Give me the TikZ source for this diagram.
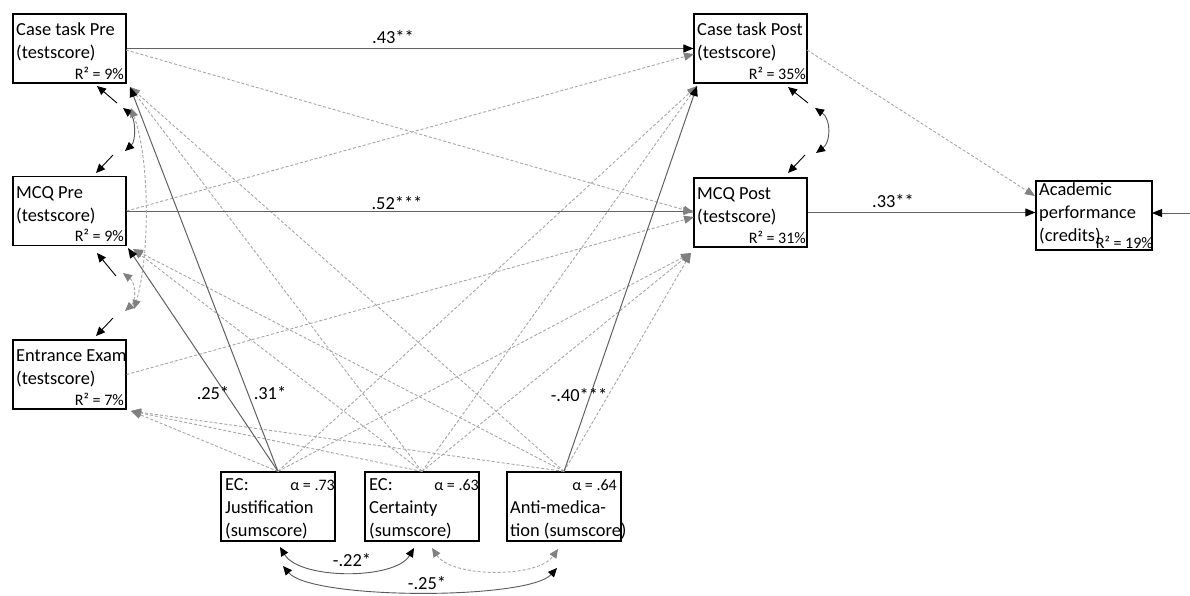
\documentclass[tikz,border=0pt]{standalone}
\usepackage{fontspec}
\setmainfont{Carlito}
\usetikzlibrary{arrows.meta}
\tikzset{
  box/.style={draw=black, line width=1.2pt, inner sep=0pt, minimum width=113pt, minimum height=69pt},
  bt/.style={font=\fontsize{18.4}{23}\selectfont, inner sep=0pt, text=black},
  st/.style={font=\fontsize{16}{19}\selectfont, inner sep=0pt, text=black},
  sig/.style={draw=black!62, line width=1pt, -{Triangle[length=10pt,width=8pt,color=black]}},
  siggray/.style={draw=black!62, line width=1pt, -{Triangle[length=10pt,width=8pt,color=black!50]}},
  ns/.style={draw=black!35, line width=0.9pt, dash pattern=on 3pt off 2pt, -{Triangle[length=10pt,width=8pt,color=black!50]}},
  res/.style={draw=black, line width=0.9pt, -{Triangle[length=9pt,width=8pt,color=black]}},
  cov/.style={draw=black!65, line width=0.9pt, {Triangle[length=9pt,width=8pt,color=black]}-{Triangle[length=9pt,width=8pt,color=black]}},
  ncov/.style={draw=black!35, line width=0.9pt, dash pattern=on 3pt off 2pt, {Triangle[length=9pt,width=8pt,color=black!50]}-{Triangle[length=9pt,width=8pt,color=black!50]}}
}
\begin{document}
\begin{tikzpicture}[x=1pt,y=-1pt]
\useasboundingbox (0,0) rectangle (1190,595);
\fill[white] (0,0) rectangle (1190,595);

% boxes
\node[box] (ctpre) at (69.5,48.5) {};
\node[box] (mcqpre) at (69.5,211) {};
\node[box] (ee) at (69.5,374.5) {};
\node[box] (ctpost) at (750.5,48.5) {};
\node[box] (mcqpost) at (750.5,212.5) {};
\node[box, minimum width=116pt] (acad) at (1094,215.5) {};
\node[box, minimum width=114pt] (jus) at (278,506.5) {};
\node[box, minimum width=114pt] (cer) at (422,506.5) {};
\node[box, minimum width=114pt] (anti) at (564,506.5) {};

% box texts
\node[bt, anchor=base west] (ctpre1) at (16,35) {Case task Pre};
\node[bt, anchor=base west] (ctpre2) at (16,58) {(testscore)};
\node[st, anchor=base east] (ctpre3) at (124,79) {R² = 9\%};
\node[bt, anchor=base west] (mcqpre1) at (16,198) {MCQ Pre};
\node[bt, anchor=base west] (mcqpre2) at (16,221) {(testscore)};
\node[st, anchor=base east] (mcqpre3) at (124,241) {R² = 9\%};
\node[bt, anchor=base west] (ee1) at (16,361) {Entrance Exam};
\node[bt, anchor=base west] (ee2) at (16,384) {(testscore)};
\node[st, anchor=base east] (ee3) at (124,405) {R² = 7\%};
\node[bt, anchor=base west] (ctpost1) at (697,35) {Case task Post};
\node[bt, anchor=base west] (ctpost2) at (697,58) {(testscore)};
\node[st, anchor=base east] (ctpost3) at (806,79) {R² = 35\%};
\node[bt, anchor=base west] (mcqpost1) at (697,199) {MCQ Post};
\node[bt, anchor=base west] (mcqpost2) at (697,222) {(testscore)};
\node[st, anchor=base east] (mcqpost3) at (806,243) {R² = 31\%};
\node[bt, anchor=base west] (acad1) at (1039,195) {Academic};
\node[bt, anchor=base west] (acad2) at (1039,218) {performance};
\node[bt, anchor=base west] (acad3) at (1039,241) {(credits)};
\node[st, anchor=base east] (acad4) at (1153,248) {R² = 19\%};
\node[bt, anchor=base west] (jus1) at (225,490) {EC:};
\node[st, anchor=base east] (jus2) at (335,490) {α = .73};
\node[bt, anchor=base west] (jus3) at (225,513) {Justification};
\node[bt, anchor=base west] (jus4) at (225,536) {(sumscore)};
\node[bt, anchor=base west] (cer1) at (369,490) {EC:};
\node[st, anchor=base east] (cer2) at (479,490) {α = .63};
\node[bt, anchor=base west] (cer3) at (369,513) {Certainty};
\node[bt, anchor=base west] (cer4) at (369,536) {(sumscore)};
\node[st, anchor=base east] (anti1) at (617,490) {α = .64};
\node[bt, anchor=base west] (anti2) at (510,513) {Anti-medica-};
\node[bt, anchor=base west] (anti3) at (510,536) {tion (sumscore)};

% target points
\coordinate (tCTpre) at (130,87);
\coordinate (tMCQpre) at (133,249);
\coordinate (sMCQpre) at (128,248);
\coordinate (tEE) at (131,411);
\coordinate (tCTpost) at (697,86);
\coordinate (tMCQpost) at (691,253);
\coordinate (tMCQpostL) at (694,217);
\coordinate (tCTpostL) at (694,54);
\coordinate (tAcad) at (1035,196);
\coordinate (sCTpost) at (807,50);
\coordinate (sCTpre) at (126,50);
\coordinate (rEdge) at (1190,213);
\coordinate (tAcadR) at (1152,213);

% non-significant paths
\draw[ns] (sCTpre) -- (mcqpost.west);
\draw[ns] (mcqpre.east) -- (tCTpostL);
\draw[ns] (ee.east) -- (tMCQpostL);
\draw[ns] (sCTpost) -- (tAcad);
\draw[ns] (jus.north) -- (tEE);
\draw[ns] (jus.north) -- (tCTpost);
\draw[ns] (jus.north) -- (tMCQpost);
\draw[ns] (cer.north) -- (tCTpre);
\draw[ns] (cer.north) -- (tMCQpre);
\draw[ns] (cer.north) -- (tEE);
\draw[ns] (cer.north) -- (tCTpost);
\draw[ns] (cer.north) -- (tMCQpost);
\draw[ns] (anti.north) -- (tCTpre);
\draw[ns] (anti.north) -- (tMCQpre);
\draw[ns] (anti.north) -- (tEE);
\draw[ns] (anti.north) -- (tMCQpost);

% significant paths
\draw[sig] (ctpre.east) -- (ctpost.west);
\draw[siggray] (mcqpre.east) -- (mcqpre.east -| mcqpost.west);
\draw[sig] (mcqpost.east) -- (mcqpost.east -| acad.west);
\draw[sig] (rEdge) -- (tAcadR);
\draw[sig] (jus.north) -- (tCTpre);
\draw[sig] (jus.north) -- (sMCQpre);
\draw[sig] (anti.north) -- (tCTpost);

% path labels
\node[bt] (l43) at (393,37) {.43**};
\node[bt] (l52) at (397,203) {.52***};
\node[bt] (l33) at (893,201) {.33**};
\node[bt] (l25) at (213,393) {.25*};
\node[bt] (l31) at (270,393) {.31*};
\node[bt] (l40) at (579,395) {-.40***};

% residuals of pre measures
\coordinate (e1) at (117,103);
\coordinate (e1a) at (97,86);
\coordinate (e2) at (113,155);
\coordinate (e2a) at (96,173);
\coordinate (e3) at (116,276);
\coordinate (e3a) at (97,253);
\coordinate (e4) at (113,318);
\coordinate (e4a) at (96,336);
\draw[res] (e1) -- (e1a);
\draw[res] (e2) -- (e2a);
\draw[res] (e3) -- (e3a);
\draw[res] (e4) -- (e4a);
\coordinate (c1a) at (123,108);
\coordinate (c1b) at (125,151);
\draw[cov] (c1a) .. controls (136,118) and (136,141) .. (c1b);
\coordinate (c2a) at (131,108);
\coordinate (c2b) at (134,309);
\draw[ncov] (c2a) .. controls (150,160) and (150,255) .. (c2b);
\coordinate (c3a) at (123,273);
\coordinate (c3b) at (125,311);
\draw[ncov] (c3a) .. controls (136,283) and (136,301) .. (c3b);

% residuals of post measures
\coordinate (e5) at (808,103);
\coordinate (e5a) at (788,87);
\coordinate (e6) at (805,155);
\coordinate (e6a) at (788,173);
\draw[res] (e5) -- (e5a);
\draw[res] (e6) -- (e6a);
\coordinate (c4a) at (815,108);
\coordinate (c4b) at (816,153);
\draw[cov] (c4a) .. controls (831,119) and (831,142) .. (c4b);

% covariances among EC scales
\coordinate (jc1) at (280,547);
\coordinate (jc2) at (414,548);
\draw[cov] (jc1) .. controls (300,580) and (395,580) .. (jc2);
\coordinate (ca1) at (432,548);
\coordinate (ca2) at (558,549);
\draw[ncov] (ca1) .. controls (452,578) and (538,578) .. (ca2);
\coordinate (ja1) at (283,566);
\coordinate (ja2) at (557,568);
\draw[cov] (ja1) .. controls (312,600) and (528,600) .. (ja2);
\node[bt] (l22) at (352,560) {-.22*};
\node[bt] (l25b) at (427,583) {-.25*};
\end{tikzpicture}
\end{document}
